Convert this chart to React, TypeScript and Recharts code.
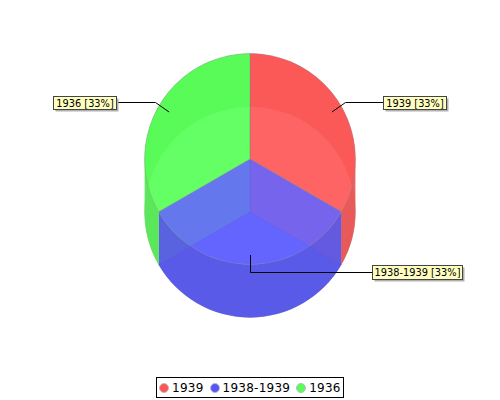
import React from "react";
import { PieChart, Pie, Legend } from "recharts";

const categories = ["1939", "1938-1939", "1936"];
const values = [33.33, 33.33, 33.33];
const percentLabels = ["33%", "33%", "33%"];
const baseColours = ["#ff5555", "#5555ff", "#55ff55"];
const wallColours = ["#e65252", "#5252e6", "#52e652"];

const rows = categories.map((name, i) => ({ name, value: values[i], tag: percentLabels[i], fill: baseColours[i], wall: wallColours[i] }));

const CX = 250, TOP_Y = 159, DEPTH = 53, R = 105.4;
const TOP_ALPHA = 0.8, FLOOR_ALPHA = 0.55, WALL_ALPHA = 0.9;

const pt = (cx: number, cy: number, r: number, a: number) => {
  const t = (a * Math.PI) / 180;
  return [cx + r * Math.cos(t), cy - r * Math.sin(t)];
};

function WallShape(props: any) {
  const { cx, cy, outerRadius: r, startAngle, endAngle, payload } = props;
  const fill = payload?.wall ?? props.wall;
  const hi = Math.max(startAngle, endAngle), lo = Math.min(startAngle, endAngle);
  const stops = [hi];
  for (let k = Math.floor((hi - 1e-6) / 180); k * 180 > lo; k--) stops.push(k * 180);
  stops.push(lo);
  let d = "";
  for (let i = 0; i < stops.length - 1; i++) {
    const [ax, ay] = pt(cx, cy, r, stops[i]);
    const [bx, by] = pt(cx, cy, r, stops[i + 1]);
    const isFront = Math.sin((((stops[i] + stops[i + 1]) / 2) * Math.PI) / 180) < 0;
    // same winding for back and front bands, so their shared sliver stays filled
    d += isFront
      ? `M${ax},${ay} L${ax},${ay + DEPTH} A${r},${r} 0 0 1 ${bx},${by + DEPTH} L${bx},${by} A${r},${r} 0 0 0 ${ax},${ay} Z `
      : `M${ax},${ay} A${r},${r} 0 0 1 ${bx},${by} L${bx},${by + DEPTH} A${r},${r} 0 0 0 ${ax},${ay + DEPTH} Z `;
  }
  return <path d={d} fill={fill} fillOpacity={WALL_ALPHA} stroke="none" />;
}

const TAG_POS: Record<string, { elbow: [number, number]; boxX: number; boxW: number; boxY: number; boxH: number; linkR: number }> = {
  "1939": { elbow: [345, 102], boxX: 383, boxW: 63, boxY: 96, boxH: 13, linkR: 94 },
  "1938-1939": { elbow: [250, 272], boxX: 372, boxW: 90, boxY: 265, boxH: 14, linkR: 96 },
  "1936": { elbow: [155, 102], boxX: 53, boxW: 63, boxY: 96, boxH: 13, linkR: 94 },
};

function TagLabel(props: any) {
  const { midAngle, name, payload } = props;
  const label = name ?? payload?.name;
  const tag = payload?.tag ?? props.tag;
  const pos = TAG_POS[label];
  if (!pos) return null;
  const [ax, ay] = pt(CX, TOP_Y, pos.linkR, midAngle);
  const endX = pos.boxX > CX ? pos.boxX : pos.boxX + pos.boxW;
  return (
    <g>
      <polyline points={`${ax + 0.5},${ay} ${pos.elbow[0] + 0.5},${pos.elbow[1] + 0.5} ${endX},${pos.elbow[1] + 0.5}`} fill="none" stroke="#000" strokeWidth={1} />
      <rect x={pos.boxX + 2.5} y={pos.boxY + 2.5} width={pos.boxW} height={pos.boxH} fill="#b0b0b0" />
      <rect x={pos.boxX + 0.5} y={pos.boxY + 0.5} width={pos.boxW} height={pos.boxH} fill="#ffffc0" stroke="#444" strokeWidth={1} />
      <text x={pos.boxX + pos.boxW / 2 + 0.5} y={pos.boxY + 10.5} textAnchor="middle" fontFamily="'DejaVu Sans'" fontSize={9.8} fill="#000">
        {`${label} [${tag}]`}
      </text>
    </g>
  );
}

function LegendBox() {
  return (
    <div style={{ position: "absolute", left: 156, top: 377, width: 188, height: 21, boxSizing: "border-box", border: "1px solid #000", background: "#fff", display: "flex", alignItems: "center", paddingLeft: 2, fontFamily: "'DejaVu Sans'", fontSize: 12, color: "#000", whiteSpace: "nowrap" }}>
      {rows.map((it) => (
        <span key={it.name} style={{ display: "inline-flex", alignItems: "center", marginRight: 6 }}>
          <span style={{ width: 8, height: 8, borderRadius: "50%", background: it.fill, border: "1px solid #bbb", marginRight: 3, display: "inline-block" }} />
          <span style={{ letterSpacing: 0.25 }}>{it.name}</span>
        </span>
      ))}
    </div>
  );
}

export default function App() {
  return (
    <div style={{ position: "absolute", left: 0, top: 0, width: 500, height: 400, background: "#fff" }}>
      <PieChart width={500} height={400} margin={{ top: 0, right: 0, bottom: 0, left: 0 }}>
        <Pie data={rows} dataKey="value" nameKey="name" cx={CX} cy={TOP_Y + DEPTH} outerRadius={R} innerRadius={0} startAngle={90} endAngle={-270} stroke="#888" strokeOpacity={0.35} strokeWidth={1} fillOpacity={FLOOR_ALPHA} isAnimationActive={false} legendType="none" />
        <Pie data={rows} dataKey="value" nameKey="name" cx={CX} cy={TOP_Y} outerRadius={R} innerRadius={0} startAngle={90} endAngle={-270} shape={WallShape} isAnimationActive={false} legendType="none" />
        <Pie data={rows} dataKey="value" nameKey="name" cx={CX} cy={TOP_Y} outerRadius={R} innerRadius={0} startAngle={90} endAngle={-270} stroke="#888" strokeOpacity={0.35} strokeWidth={1} fillOpacity={TOP_ALPHA} label={TagLabel} labelLine={false} isAnimationActive={false} legendType="circle" />
        <Legend content={LegendBox} wrapperStyle={{ position: "absolute", left: 0, top: 0, bottom: "auto", width: 500, height: 0 }} />
      </PieChart>
    </div>
  );
}
